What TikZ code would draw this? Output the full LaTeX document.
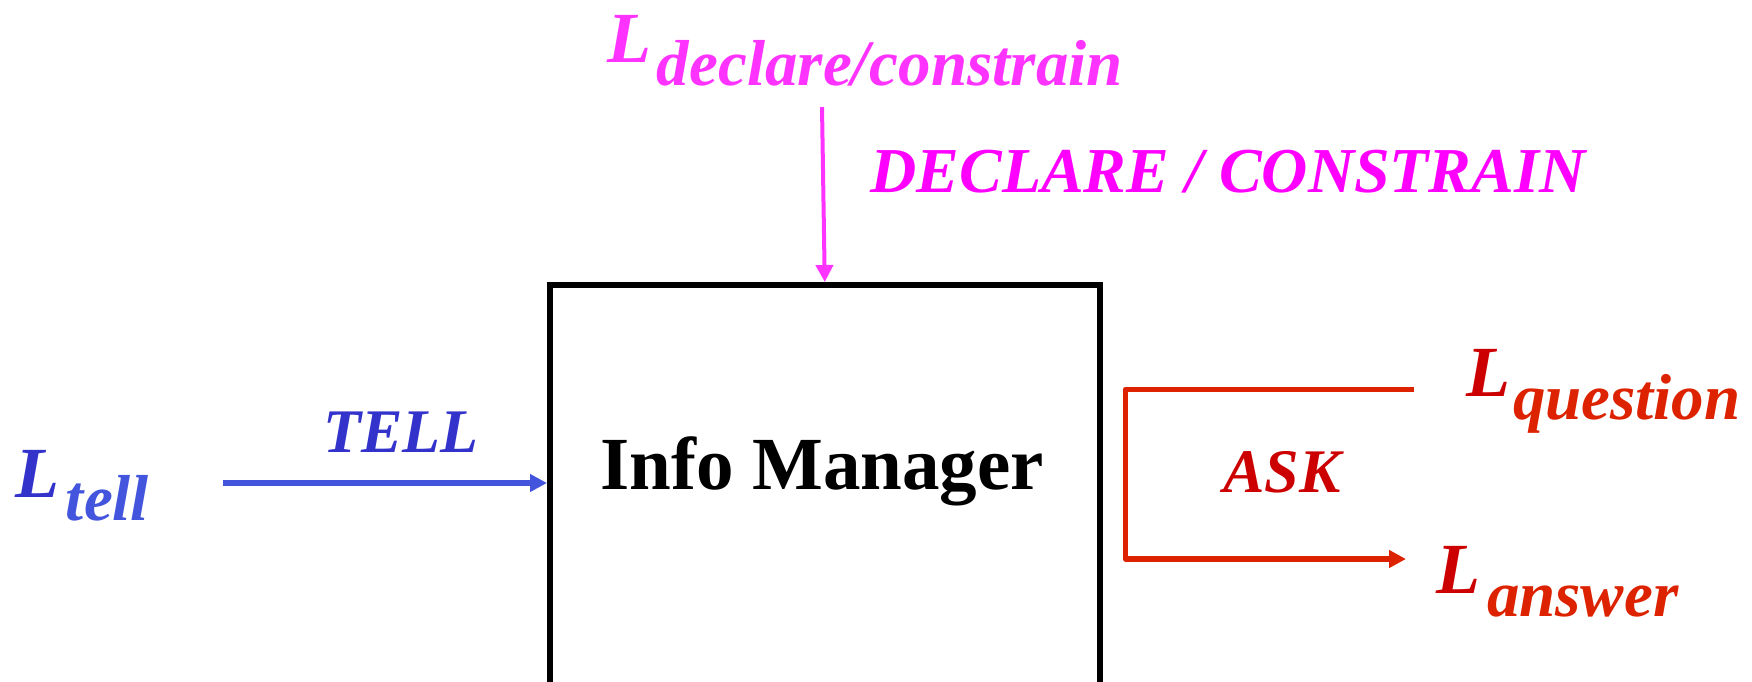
\documentclass[tikz,border=0pt]{standalone}
\usepackage{fontspec}
\setmainfont{Liberation Serif}
\usetikzlibrary{arrows.meta}
\definecolor{magA}{HTML}{FF33FF}
\definecolor{magB}{HTML}{FF00FF}
\definecolor{bluT}{HTML}{3333CC}
\definecolor{bluA}{HTML}{4455DD}
\definecolor{redT}{HTML}{CC0000}
\definecolor{redA}{HTML}{DD2200}
\newcommand\Lsub[3]{\fontsize{72}{72}\selectfont\bfseries\itshape L\kern#3pt\raisebox{-23pt}{\color{#1}\fontsize{65}{65}\selectfont #2}}
\tikzset{
  lbl/.style={inner sep=0pt, outer sep=0pt, anchor=base west},
  cap/.style={inner sep=0pt, outer sep=0pt, anchor=base, font=\fontsize{#1}{#1}\selectfont\bfseries\itshape},
  tip/.style={-{Triangle[length=17pt,width=17pt]}},
}
\begin{document}
\begin{tikzpicture}[x=1pt,y=-1pt]
\useasboundingbox (0,0) rectangle (1752,681);
\clip (0,0) rectangle (1752,681);
% box
\node[draw, line width=5.5pt, minimum width=550pt, minimum height=500pt, anchor=north west, inner sep=0pt] (box) at (547,282) {};
\node[inner sep=0pt, anchor=base, font=\fontsize{75}{75}\selectfont\bfseries] (im) at (822,489) {Info Manager};
% labels
\node[lbl, text=magA] (ldecl) at (607,62) {\Lsub{magA}{declare/constrain}{6}};
\node[lbl, text=bluT] (ltell) at (15,497) {\Lsub{bluA}{tell}{7}};
\node[lbl, text=redT] (lq) at (1466,396) {\Lsub{redA}{question}{3}};
\node[lbl, text=redT] (la) at (1436,593) {\Lsub{redA}{answer}{7}};
\node[cap=64, text=magB] (decl) at (1228,192) {DECLARE / CONSTRAIN};
\node[cap=62, text=bluT] (tell) at (401,452) {TELL};
\node[cap=62, text=redT] (ask) at (1282,492) {ASK};
% connectors
\coordinate (dstart) at (822,107);
\coordinate (tstart) at (223,483);
\coordinate (qstart) at (1414,389.5);
\coordinate (aend) at (1406,559);
\draw[tip, magA, line width=4pt] (dstart) -- (box.north);
\draw[tip, bluA, line width=6pt] (tstart) -- (box.west |- tstart);
\draw[tip, redA, line width=5.5pt, line join=round] (qstart) -- (1125.5,389.5) |- (aend);
\end{tikzpicture}
\end{document}
